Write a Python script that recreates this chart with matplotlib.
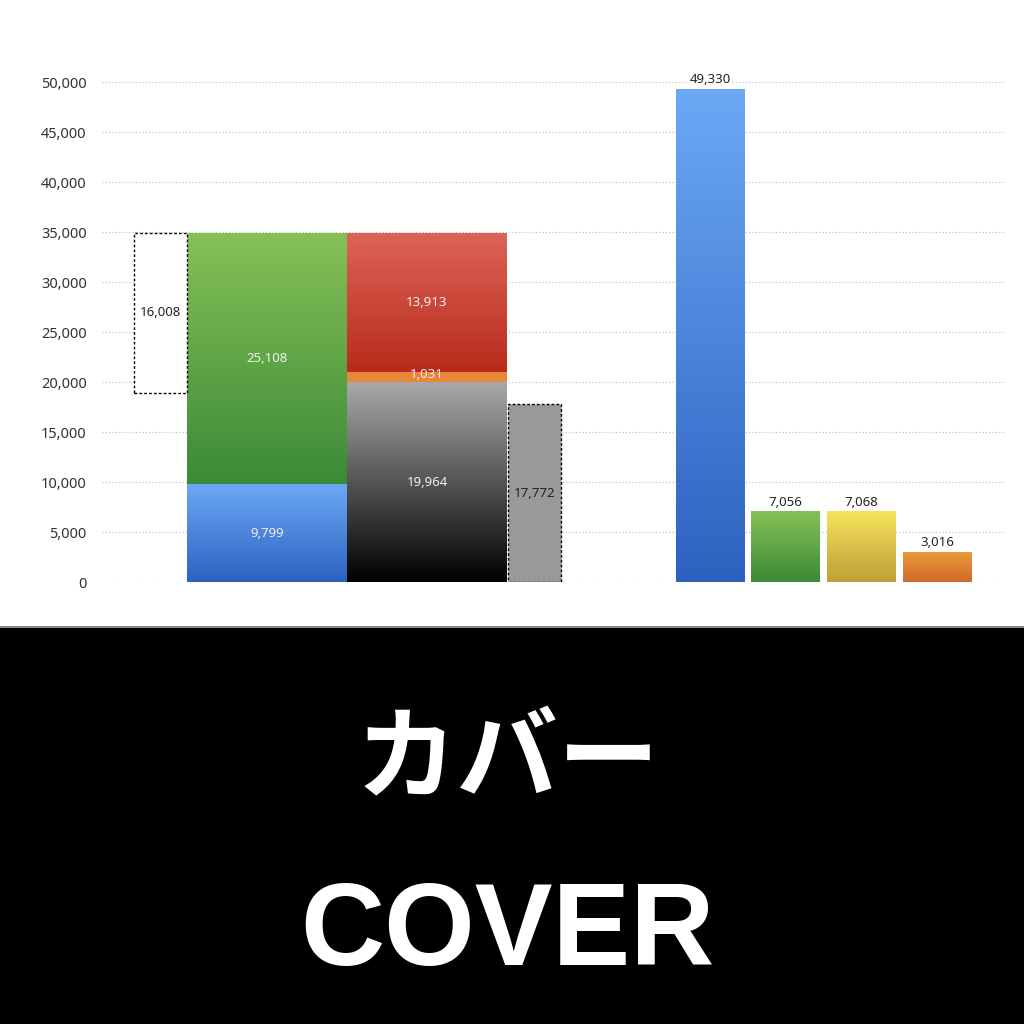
import numpy as np
import matplotlib
matplotlib.use("Agg")
import matplotlib.pyplot as plt
from matplotlib.colors import LinearSegmentedColormap
from matplotlib.patches import Rectangle

plt.rcParams["font.family"] = ["Noto Sans", "Noto Sans CJK JP", "DejaVu Sans"]

# --- data ---
blue_val = 9799
green_val = 25108
black_val = 19964
orange_val = 1031
red_val = 13913
gap_val = 16008
gray_val = 17772
right_vals = [49330, 7056, 7068, 3016]

# --- layout (pixel-like x units) ---
X_LEFT, X_RIGHT = 102, 1005
gap_x, gap_w = 160.5, 53
stack1_x, stack2_x, stack_w = 267, 427, 160
gray_x = 534.5
right_x = [710, 785.5, 861.5, 937.5]
right_w = 69
right_cols = [("#6ba9f5", "#2d61c0"), ("#86c157", "#3b8a37"),
              ("#f5e35c", "#bf9f37"), ("#e89a3b", "#d16a2b")]

fig = plt.figure(figsize=(10.24, 10.24), dpi=100)
fig.patch.set_facecolor("white")
ax = fig.add_axes([X_LEFT / 1024, (1024 - 582) / 1024,
                   (X_RIGHT - X_LEFT) / 1024, 500 / 1024])


def grad_bar(x, bottom, height, width, top_c, bot_c):
    bar = ax.bar(x, height, width, bottom=bottom, color="none",
                 edgecolor="none", zorder=2)[0]
    cmap = LinearSegmentedColormap.from_list("g", [bot_c, top_c])
    img = ax.imshow(np.linspace(0, 1, 256).reshape(-1, 1), cmap=cmap,
                    extent=[x - width / 2, x + width / 2, bottom, bottom + height],
                    origin="lower", aspect="auto", zorder=2, interpolation="bilinear")
    img.set_clip_path(bar)
    return bar


inner = dict(ha="center", va="center", fontsize=9.5, color="#f0f0f0", zorder=5)
dark = dict(ha="center", va="center", fontsize=9.5, color="#222222", zorder=5)

# stacked bar 1
grad_bar(stack1_x, 0, blue_val, stack_w, "#6ba9f5", "#2d61c0")
grad_bar(stack1_x, blue_val, green_val, stack_w, "#86c157", "#3b8a37")
ax.text(stack1_x, blue_val / 2, f"{blue_val:,}", **inner)
ax.text(stack1_x, blue_val + green_val / 2, f"{green_val:,}", **inner)

# dashed box (difference)
top1 = blue_val + green_val
ax.bar(gap_x, gap_val, gap_w, bottom=top1 - gap_val, color="white",
       edgecolor="black", linestyle=(0, (2, 1.5)), linewidth=1, zorder=2)
ax.text(gap_x, top1 - gap_val / 2, f"{gap_val:,}", **dark)

# stacked bar 2
grad_bar(stack2_x, 0, black_val, stack_w, "#a9a9a9", "#000000")
ax.bar(stack2_x, orange_val, stack_w, bottom=black_val, color="#e8873a", zorder=2)
grad_bar(stack2_x, black_val + orange_val, red_val, stack_w, "#dd6458", "#b82b1b")
ax.text(stack2_x, black_val / 2, f"{black_val:,}", **inner)
ax.text(stack2_x, black_val + orange_val / 2 + 250, f"{orange_val:,}", **inner)
ax.text(stack2_x, black_val + orange_val + red_val / 2, f"{red_val:,}", **inner)

# gray dashed bar
ax.bar(gray_x, gray_val, gap_w, color="#999999", edgecolor="black",
       linestyle=(0, (2, 1.5)), linewidth=1, zorder=2)
ax.text(gray_x, gray_val / 2, f"{gray_val:,}", **dark)

# right bars
for x, v, (tc, bc) in zip(right_x, right_vals, right_cols):
    grad_bar(x, 0, v, right_w, tc, bc)
    ax.text(x, v + 250, f"{v:,}", ha="center", va="bottom", fontsize=9.5,
            color="#222222", zorder=5,
            bbox=dict(facecolor="white", edgecolor="none", pad=0.5))

ax.set_xlim(X_LEFT, X_RIGHT)
ax.set_ylim(0, 50000)
ax.set_yticks(np.arange(0, 50001, 5000))
ax.set_yticklabels([f"{t:,}" for t in range(0, 50001, 5000)])
ax.tick_params(axis="y", length=0, pad=11, labelsize=10.5, labelcolor="#333333")
ax.tick_params(axis="x", length=0, labelbottom=False)
ax.grid(axis="y", linestyle=(0, (1, 2)), color="#bbbbbb", linewidth=0.8, zorder=0)
ax.set_axisbelow(True)
for s in ax.spines.values():
    s.set_visible(False)
ax.set_facecolor("none")

# bottom black panel
fig.patches.append(Rectangle((0, 0), 1, (1024 - 628) / 1024, transform=fig.transFigure,
                             facecolor="black", edgecolor="none", zorder=0))
fig.patches.append(Rectangle((0, (1024 - 628) / 1024), 1, 2 / 1024,
                             transform=fig.transFigure, facecolor="#8a8a8a",
                             edgecolor="none", zorder=0))
fig.text(508 / 1024, 1 - 762 / 1024, "カバー", ha="center", va="center",
         fontsize=73, fontweight="bold", color="white",
         family=["Noto Sans CJK JP", "DejaVu Sans"])
fig.text(507 / 1024, 1 - 934 / 1024, "COVER", ha="center", va="center",
         fontsize=84, fontweight="bold", color="white",
         family=["Liberation Sans", "DejaVu Sans"])

fig.savefig("out.png", dpi=100)
